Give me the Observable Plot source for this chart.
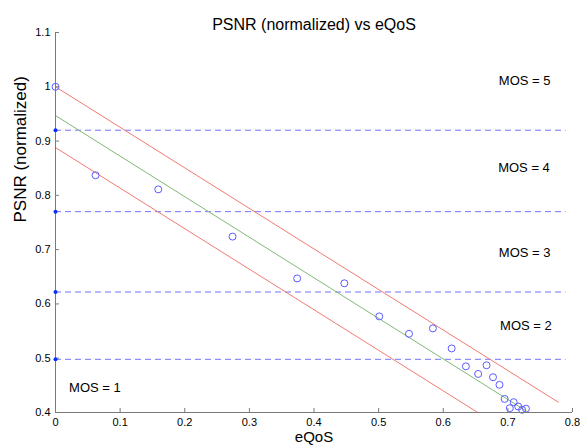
<!DOCTYPE html>
<html>
<head>
<meta charset="utf-8">
<script src="https://cdn.jsdelivr.net/npm/d3@7"></script>
<script src="https://cdn.jsdelivr.net/npm/@observablehq/plot@0.6"></script>
<style>
  html, body { margin: 0; padding: 0; background: #fff; }
  #chart svg { display: block; }
</style>
</head>
<body>
<div id="chart"></div>
<script>
// Measured points
const eqos = [0, 0.062, 0.159, 0.274, 0.374, 0.447, 0.501, 0.547, 0.584, 0.613, 0.635, 0.654, 0.667, 0.677, 0.687, 0.695, 0.703, 0.709, 0.716, 0.722, 0.728];
const psnr = [1.0, 0.837, 0.811, 0.724, 0.647, 0.638, 0.577, 0.545, 0.555, 0.518, 0.485, 0.471, 0.487, 0.465, 0.451, 0.425, 0.408, 0.419, 0.411, 0.405, 0.407];

// Fit line and bounds
const fitX = [0, 0.728];
const fitY = [0.947, 0.403];
const boundX = [0, 0.778];
const upperY = [1.0, 0.419];
const lowerY = [0.888, 0.307];

// MOS thresholds and labels
const mosThresholds = [0.92, 0.77, 0.622, 0.498];
const thresholdEnd = 0.79;
const mosLabels = ["MOS = 5", "MOS = 4", "MOS = 3", "MOS = 2", "MOS = 1"];
const mosLabelX = [0.686, 0.685, 0.686, 0.688, 0.021];
const mosLabelY = [1.011, 0.850, 0.694, 0.559, 0.445];

// Ticks
const xTicks = [0, 0.1, 0.2, 0.3, 0.4, 0.5, 0.6, 0.7, 0.8];
const yTicks = [0.4, 0.5, 0.6, 0.7, 0.8, 0.9, 1.0, 1.1];

const points = eqos.map((x, i) => ({x, y: psnr[i]}));
const fit = fitX.map((x, i) => ({x, y: fitY[i]}));
const upper = boundX.map((x, i) => ({x, y: upperY[i]}));
const lower = boundX.map((x, i) => ({x, y: lowerY[i]}));
const labels = mosLabels.map((t, i) => ({t, x: mosLabelX[i], y: mosLabelY[i]}));

const font = "'Liberation Sans', Arial, Helvetica, sans-serif";
const axisColor = "#7a7a7a";

const chart = Plot.plot({
  width: 587,
  height: 448,
  marginLeft: 55,
  marginRight: 15,
  marginTop: 32,
  marginBottom: 36,
  style: {fontFamily: font, background: "#fff", color: "#111"},
  x: {domain: [0, 0.8]},
  y: {domain: [0.4, 1.1]},
  marks: [
    // Threshold dashed lines
    Plot.ruleY(mosThresholds, {y: d => d, x1: 0, x2: thresholdEnd, stroke: "#7474ff", strokeWidth: 1, strokeDasharray: "6,4"}),
    // Bounds and fit
    Plot.line(upper, {x: "x", y: "y", stroke: "#f27a70", strokeWidth: 1, clip: true}),
    Plot.line(lower, {x: "x", y: "y", stroke: "#f27a70", strokeWidth: 1, clip: true}),
    Plot.line(fit, {x: "x", y: "y", stroke: "#7fba76", strokeWidth: 1, clip: true}),
    // Data circles
    Plot.dot(points, {x: "x", y: "y", r: 3.5, stroke: "#5b5bff", fill: "none", strokeWidth: 1}),
    // Axis lines
    Plot.ruleX([0], {x: d => d, y1: 0.4, y2: 1.1, stroke: axisColor, strokeWidth: 1}),
    Plot.ruleY([0.4], {y: d => d, x1: 0, x2: 0.8, stroke: axisColor, strokeWidth: 1}),
    // Inward tick marks
    Plot.ruleX(xTicks, {x: d => d, y1: 0.4, y2: 0.4, insetTop: -4, stroke: axisColor}),
    Plot.ruleY(yTicks, {y: d => d, x1: 0, x2: 0, insetRight: -4, stroke: axisColor}),
    // Threshold markers on the y axis
    Plot.dot(mosThresholds, {x: 0, y: d => d, r: 2, fill: "#0a2cff", stroke: "none"}),
    // Axes
    Plot.axisX({ticks: xTicks, tickSize: 0, tickPadding: 6, fontSize: 11, tickFormat: d => String(d), label: null, fill: "#000"}),
    Plot.axisY({ticks: yTicks, tickSize: 0, tickPadding: 5, fontSize: 11, tickFormat: d => String(d), label: null, fill: "#000"}),
    // MOS labels
    Plot.text(labels, {x: "x", y: "y", text: "t", textAnchor: "start", fontSize: 13, fill: "#000"}),
    // Title and axis labels
    Plot.text(["PSNR (normalized) vs eQoS"], {frameAnchor: "top", dy: -14, fontSize: 16, fill: "#000"}),
    Plot.text(["PSNR (normalized)"], {frameAnchor: "left", dx: -35, rotate: -90, fontSize: 17, fill: "#000"}),
    Plot.text(["eQoS"], {frameAnchor: "bottom", dy: 29.5, fontSize: 15, fill: "#000"})
  ]
});

document.getElementById("chart").appendChild(chart);
</script>
</body>
</html>
